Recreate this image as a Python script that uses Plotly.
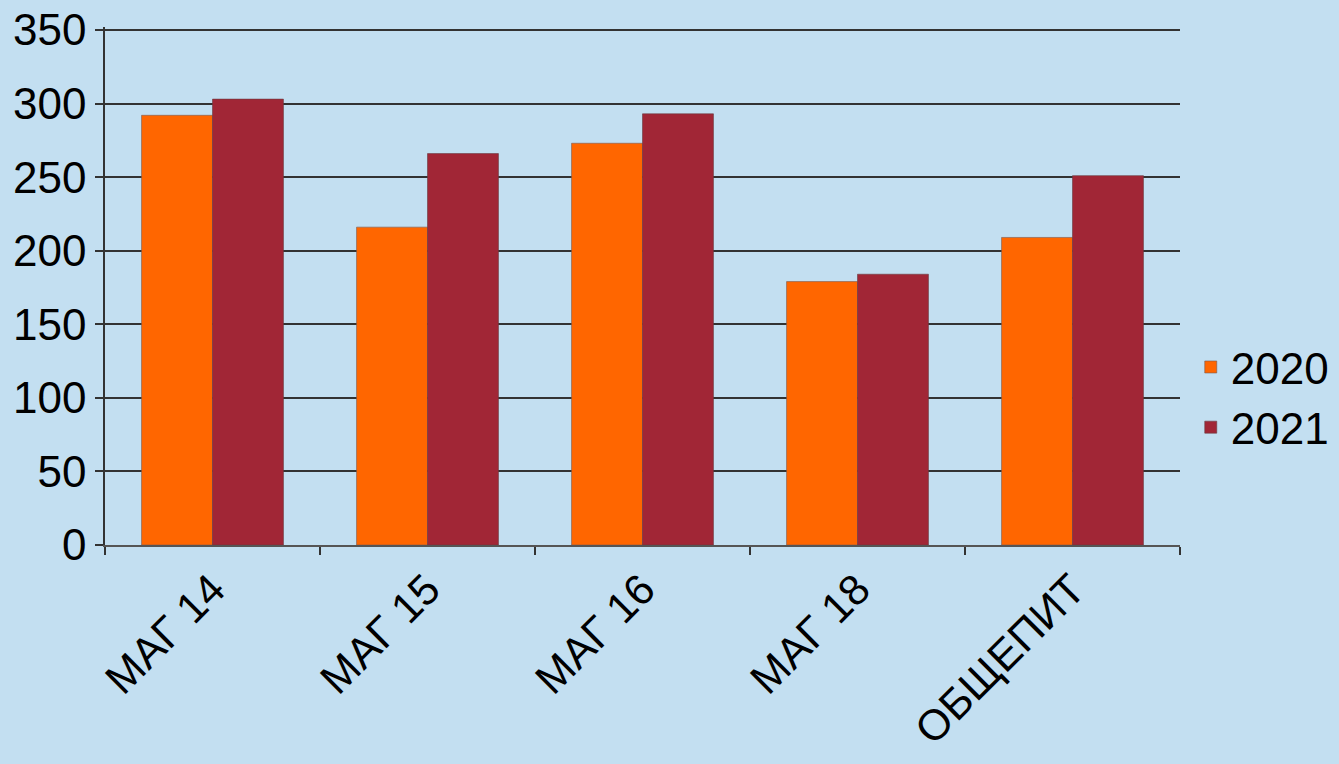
import plotly.graph_objects as go

categories = ["МАГ 14", "МАГ 15", "МАГ 16", "МАГ 18", "ОБЩЕПИТ"]
values_2020 = [292, 216, 273, 179, 209]
values_2021 = [303, 266, 293, 184, 251]
series_names = ["2020", "2021"]
y_ticks = [0, 50, 100, 150, 200, 250, 300, 350]

bg = "#C3DFF1"
fig = go.Figure()
fig.add_trace(go.Bar(x=categories, y=values_2020, name=series_names[0],
                     marker=dict(color="#FF6600", line=dict(color="#7A5A50", width=0.6))))
fig.add_trace(go.Bar(x=categories, y=values_2021, name=series_names[1],
                     marker=dict(color="#A12636", line=dict(color="#6A3A40", width=0.6))))

fig.update_layout(
    width=1339, height=764,
    paper_bgcolor=bg, plot_bgcolor=bg,
    barmode="group", bargap=0.34, bargroupgap=0,
    margin=dict(l=105, r=159, t=27, b=219, autoexpand=False),
    font=dict(family="Liberation Sans, Arial, sans-serif", color="#000000"),
    legend=dict(x=1.01, y=0.285, xanchor="left", yanchor="middle",
                font=dict(size=44), bgcolor="rgba(0,0,0,0)",
                itemwidth=30, tracegroupgap=0),
)
fig.update_yaxes(range=[0, 352], tickvals=y_ticks, showgrid=True,
                 gridcolor="#333333", gridwidth=1.5,
                 showline=True, linecolor="#333333", linewidth=1.5,
                 ticks="outside", ticklen=8, tickcolor="#333333", tickwidth=1.5,
                 tickfont=dict(size=44), zeroline=False)
fig.update_xaxes(showline=True, linecolor="#555555", linewidth=1.5,
                 ticks="outside", ticklen=8, tickcolor="#333333", tickwidth=1.5,
                 tickson="boundaries", tickangle=-45,
                 tickfont=dict(size=43), showgrid=False, mirror=False)

fig.write_html("out.html", config={"displayModeBar": False},
               post_script="document.body.style.margin='0';document.body.style.overflow='hidden';")
